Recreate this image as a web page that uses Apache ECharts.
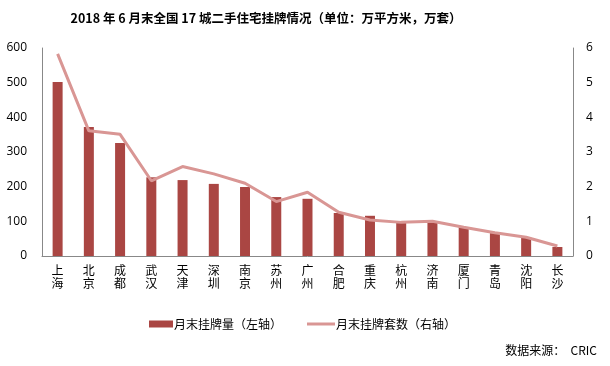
<!DOCTYPE html>
<html><head><meta charset="utf-8">
<script src="https://cdn.jsdelivr.net/npm/echarts@6/dist/echarts.min.js"></script>
<style>html,body{margin:0;padding:0;background:#fff;}#c{width:610px;height:366px;}</style>
</head><body><div id="c"></div>
<script>
var cities = ['上海','北京','成都','武汉','天津','深圳','南京','苏州','广州','合肥','重庆','杭州','济南','厦门','青岛','沈阳','长沙'];
var listedArea = [502, 372, 326, 227, 219, 208, 199, 170, 165, 124, 116, 96, 99, 83, 66, 54, 26];
var listedUnits = [5.83, 3.61, 3.51, 2.17, 2.58, 2.37, 2.10, 1.57, 1.84, 1.26, 1.04, 0.97, 1.00, 0.83, 0.67, 0.54, 0.29];
var leftTicks = [0, 100, 200, 300, 400, 500, 600];
var rightTicks = [0, 1, 2, 3, 4, 5, 6];
var seriesNames = ['月末挂牌量（左轴）', '月末挂牌套数（右轴）'];

var chart = echarts.init(document.getElementById('c'));
var cjk = '"Microsoft YaHei","Noto Sans CJK SC",sans-serif';
var legendText = {fontFamily: cjk, fontSize: 12, color: '#000', padding: [0,0,0,-4]};
chart.setOption({
  animation: false,
  title: {
    text: '2018 年 6 月末全国 17 城二手住宅挂牌情况（单位：万平方米，万套）',
    left: 261, top: 7, textAlign: 'center',
    textStyle: {fontFamily: cjk, fontSize: 12.5, fontWeight: 'bold', color: '#000'}
  },
  legend: [{
    left: 144, top: 313, itemWidth: 24, itemHeight: 7, textStyle: legendText,
    data: [{name: seriesNames[0], icon: 'rect'}]
  }, {
    left: 302, top: 313, itemWidth: 28, itemHeight: 3, textStyle: legendText,
    data: [{name: seriesNames[1], icon: 'rect'}]
  }],
  graphic: [{type: 'text', right: 13, top: 344,
    style: {text: '数据来源：  CRIC', font: '12px "Microsoft YaHei","Noto Sans CJK SC",sans-serif', fill: '#000'}}],
  grid: {left: 42, right: 37, top: 48, bottom: 110},
  xAxis: {
    type: 'category', data: cities,
    axisLine: {lineStyle: {color: '#888'}},
    axisTick: {show: false},
    axisLabel: {interval: 0, margin: 8, lineHeight: 13, fontSize: 12, color: '#000', fontFamily: cjk,
      formatter: function(v){ return v.split('').join('\n'); }}
  },
  yAxis: [{
    type: 'value', min: leftTicks[0], max: leftTicks[leftTicks.length-1], interval: 100,
    axisLine: {show: true, lineStyle: {color: '#888'}}, axisTick: {show: false}, splitLine: {show: false},
    axisLabel: {margin: 15, fontSize: 12, color: '#000', fontFamily: '"Segoe UI","Open Sans",sans-serif'}
  }, {
    type: 'value', min: rightTicks[0], max: rightTicks[rightTicks.length-1], interval: 1,
    axisLine: {show: true, lineStyle: {color: '#888'}}, axisTick: {show: false}, splitLine: {show: false},
    axisLabel: {margin: 13, fontSize: 12, color: '#000', fontFamily: '"Segoe UI","Open Sans",sans-serif'}
  }],
  series: [{
    name: seriesNames[0], type: 'bar', data: listedArea, barWidth: 10,
    itemStyle: {color: '#AA4643'}
  }, {
    name: seriesNames[1], type: 'line', yAxisIndex: 1, data: listedUnits,
    symbol: 'none', lineStyle: {color: '#D99694', width: 3}, itemStyle: {color: '#D99694'}
  }]
});
</script></body></html>
